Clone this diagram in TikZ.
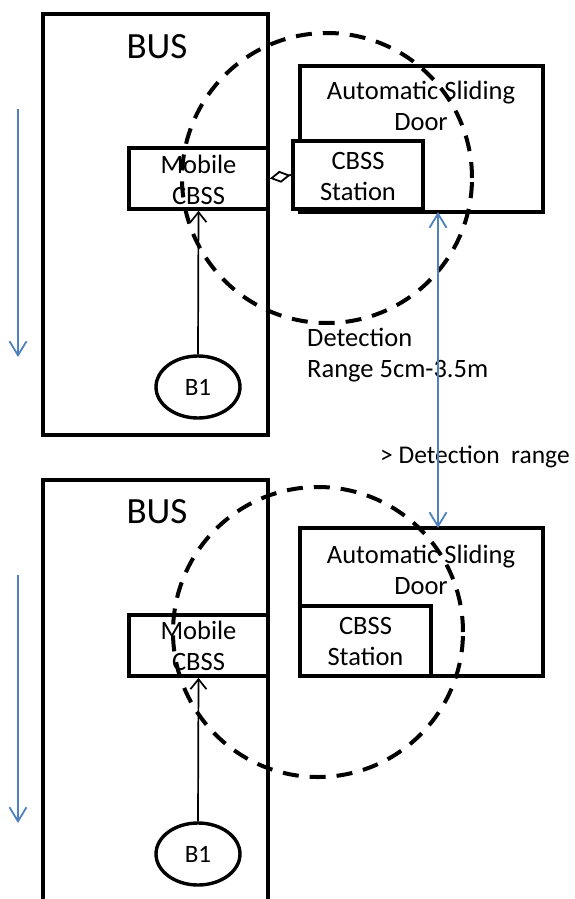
\documentclass[tikz,border=0pt]{standalone}
\usepackage{fontspec}
\setmainfont{Carlito}
\usetikzlibrary{arrows.meta,shapes.geometric}
\definecolor{flowblue}{RGB}{79,129,189}
\tikzset{
  framebox/.style={draw, line width=3.6pt, inner sep=0pt},
  labeltext/.style={font=\fontsize{26.5}{31}\selectfont, align=center, inner sep=0pt},
  busname/.style={font=\fontsize{37}{40}\selectfont, inner sep=0pt},
  tokenshape/.style={draw, ellipse, line width=3.4pt, minimum width=84pt, minimum height=62pt, inner sep=0pt, font=\fontsize{25}{30}\selectfont},
  rangering/.style={draw, line width=4pt, dash pattern=on 16pt off 11pt},
  motionarrow/.style={draw=flowblue, line width=1.8pt, -{Straight Barb[length=14pt, width=17pt, line width=1.8pt]}},
  signalarrow/.style={draw, line width=1.7pt, -{Straight Barb[length=10pt, width=16pt, line width=1.7pt]}},
  gaparrow/.style={draw=flowblue, line width=1.8pt, {Straight Barb[length=14pt, width=17pt, line width=1.8pt]}-{Straight Barb[length=14pt, width=17pt, line width=1.8pt]}},
  pairlink/.style={draw, line width=1.8pt, {Diamond[open, length=21pt, width=12pt, line width=1.8pt]}-}
}
\begin{document}
\begin{tikzpicture}[x=1pt, y=-1pt]
\useasboundingbox (0,0) rectangle (575,899);
\clip (0,0) rectangle (575,899);

% ---------- upper scene: bus inside detection range ----------
\node[framebox, minimum width=225pt, minimum height=421pt] (bus1) at (155.5,224.5) {};
\node[busname] (busl1) at (157,47) {BUS};
\node[framebox, minimum width=139pt, minimum height=61pt] (mob1) at (198.5,178.5) {};
\node[labeltext] (mobt1) at (198.5,180) {Mobile\\CBSS};
\node[tokenshape] (b1a) at (198,387) {B1};
\draw[signalarrow] (b1a.north) -- (mob1.south);

\node[framebox, minimum width=243pt, minimum height=146pt] (door1) at (421.5,139) {};
\node[labeltext] (doort1) at (421,106) {Automatic Sliding\\Door};
\node[framebox, fill=white, minimum width=130pt, minimum height=68pt] (st1) at (358,175) {};
\node[labeltext] (stt1) at (358,176) {CBSS\\Station};
\draw[pairlink] (mob1.east) -- (st1.west);

\draw[rangering] (327,178) circle (145pt);

\coordinate (mv1s) at (18,109);
\coordinate (mv1e) at (18,357);
\draw[motionarrow] (mv1s) -- (mv1e);

\node[labeltext, align=left, anchor=west] (det) at (307,355) {Detection\\Range 5cm-3.5m};

% ---------- lower scene: bus beyond detection range ----------
\node[framebox, minimum width=225pt, minimum height=440pt] (bus2) at (155.5,700) {};
\node[busname] (busl2) at (157,512) {BUS};
\node[framebox, minimum width=139pt, minimum height=61pt] (mob2) at (198.5,645.5) {};
\node[labeltext] (mobt2) at (198.5,646) {Mobile\\CBSS};
\node[tokenshape] (b1b) at (198,854) {B1};
\draw[signalarrow] (b1b.north) -- (mob2.south);

\node[framebox, minimum width=243pt, minimum height=148pt] (door2) at (421.5,602) {};
\node[labeltext] (doort2) at (421,570) {Automatic Sliding\\Door};
\node[framebox, minimum width=131pt, minimum height=70pt] (st2) at (365.5,641) {};
\node[labeltext] (stt2) at (365.5,641) {CBSS\\Station};

\draw[rangering] (318,632) circle (145pt);

\coordinate (mv2s) at (18,575);
\coordinate (mv2e) at (18,823);
\draw[motionarrow] (mv2s) -- (mv2e);

% ---------- distance between the two door positions ----------
\coordinate (gtop) at (438,212);
\coordinate (gbot) at (438,528);
\node[labeltext, font=\fontsize{25.5}{30}\selectfont, anchor=west] (far) at (380,457) {> Detection\ \ range};
\draw[gaparrow] (gtop) -- (gbot);
\end{tikzpicture}
\end{document}
